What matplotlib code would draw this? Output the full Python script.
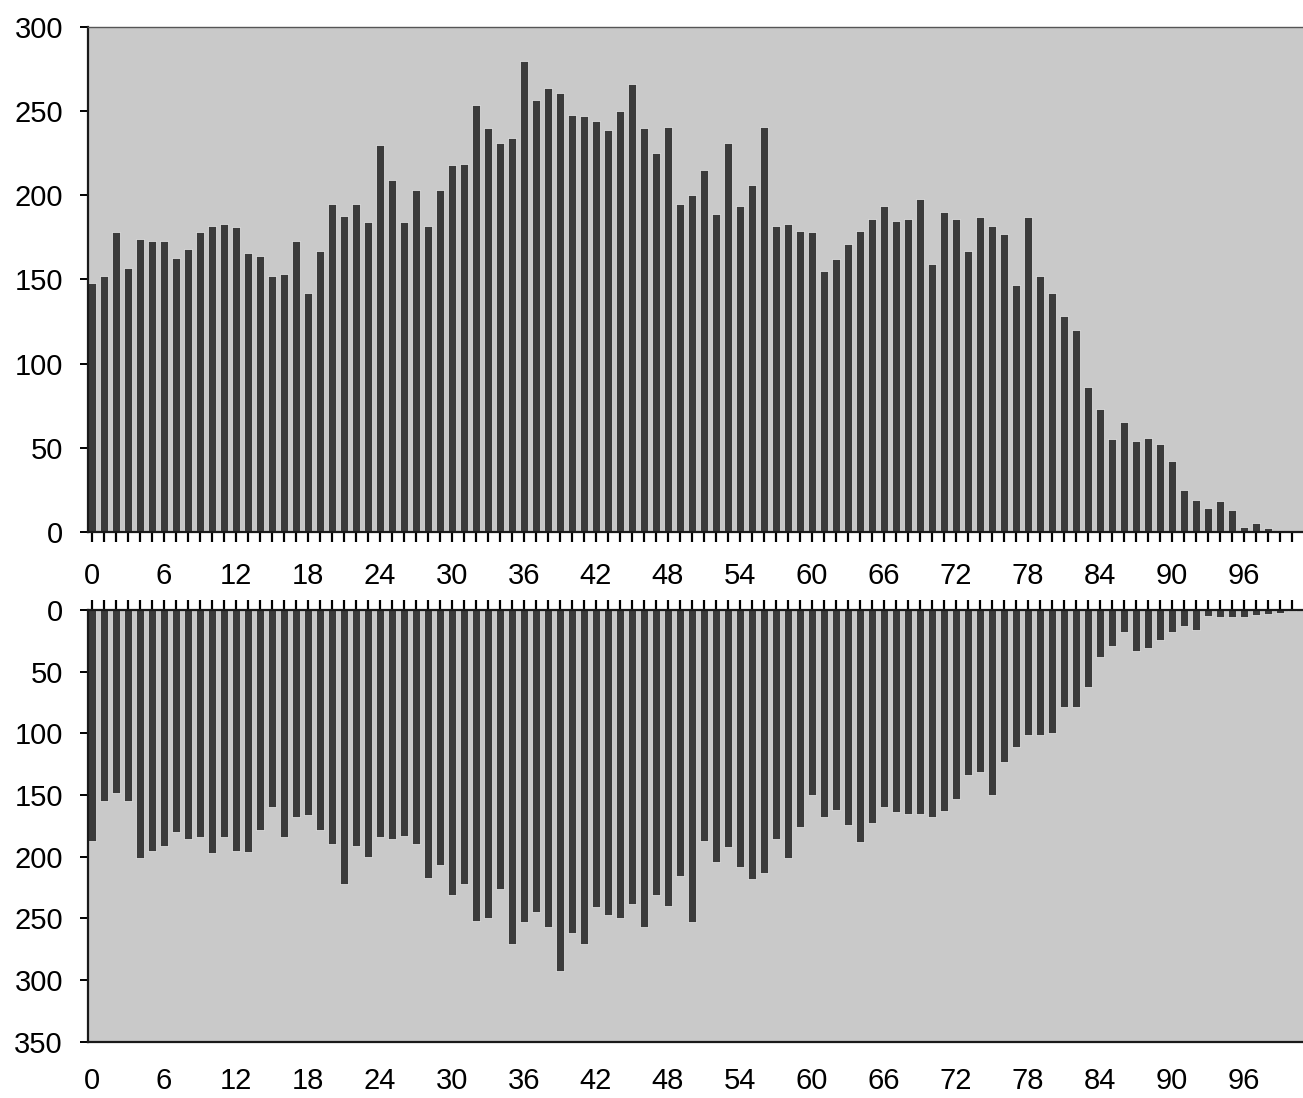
import matplotlib
matplotlib.use("Agg")
import matplotlib.pyplot as plt

# ages 0..100, one bar per year
ages = list(range(101))

upper_counts = [148, 152, 178, 157, 174, 173, 173, 163, 168, 178,
                182, 183, 181, 166, 164, 152, 153, 173, 142, 167,
                195, 188, 195, 184, 230, 209, 184, 203, 182, 203,
                218, 219, 254, 240, 231, 234, 280, 257, 264, 261,
                248, 247, 244, 239, 250, 266, 240, 225, 241, 195,
                200, 215, 189, 231, 194, 206, 241, 182, 183, 179,
                178, 155, 162, 171, 179, 186, 194, 185, 186, 198,
                159, 190, 186, 167, 187, 182, 177, 147, 187, 152,
                142, 128, 120, 86, 73, 55, 65, 54, 56, 52,
                42, 25, 19, 14, 18, 13, 3, 5, 2, 0,
                0]

lower_counts = [187, 155, 148, 155, 201, 195, 191, 180, 186, 184,
                197, 184, 195, 196, 178, 160, 184, 168, 166, 178,
                190, 222, 191, 200, 184, 186, 183, 190, 217, 207,
                231, 222, 252, 250, 226, 271, 253, 245, 257, 293,
                262, 271, 241, 247, 250, 238, 257, 231, 240, 216,
                253, 187, 204, 192, 208, 218, 213, 186, 201, 176,
                150, 168, 162, 174, 188, 173, 160, 164, 165, 165,
                168, 163, 153, 134, 131, 150, 123, 111, 101, 101,
                100, 79, 79, 62, 38, 29, 18, 33, 31, 24,
                18, 13, 16, 5, 6, 6, 6, 4, 3, 2,
                1]

x_label_step = 6
upper_yticks = list(range(0, 301, 50))
lower_yticks = list(range(0, 351, 50))

BAR_COLOR = "#3b3b3b"
PANEL_BG = "#c9c9c9"
FONT = "Liberation Sans"
FS = 21


def style_axes(ax):
    ax.set_facecolor(PANEL_BG)
    ax.set_xlim(-0.33, 100.9)
    ax.spines["right"].set_visible(False)
    for s in ("left", "top", "bottom"):
        ax.spines[s].set_linewidth(1.6)
        ax.spines[s].set_color("#1a1a1a")
    ax.set_xticks(ages)
    ax.set_xticklabels([str(a) if a % x_label_step == 0 else "" for a in ages])
    ax.tick_params(axis="y", direction="out", length=6, width=1.4,
                   pad=12, labelsize=FS)
    for lab in ax.get_xticklabels() + ax.get_yticklabels():
        lab.set_fontfamily(FONT)
        lab.set_fontsize(FS)


def main():
    fig = plt.figure(figsize=(13.03, 10.98), dpi=100)

    ax_top = fig.add_axes([0.0675, 0.5158, 0.9325, 0.4593])
    ax_top.bar(ages, upper_counts, width=0.66, color=BAR_COLOR,
               edgecolor="#efefef", linewidth=0.5, zorder=2)
    ax_top.set_ylim(0, 300)
    ax_top.set_yticks(upper_yticks)
    style_axes(ax_top)
    ax_top.spines["top"].set_linewidth(1.0)
    ax_top.spines["top"].set_color("#555555")
    ax_top.tick_params(axis="x", direction="out", length=7, width=1.6,
                       pad=15)

    ax_bot = fig.add_axes([0.0675, 0.0513, 0.9325, 0.3931])
    ax_bot.bar(ages, lower_counts, width=0.66, color=BAR_COLOR,
               edgecolor="#efefef", linewidth=0.5, zorder=2)
    ax_bot.set_ylim(350, 0)
    ax_bot.set_yticks(lower_yticks)
    style_axes(ax_bot)
    # tick marks on the zero line (top), labels along the bottom
    ax_bot.tick_params(axis="x", top=True, bottom=False,
                       labeltop=False, labelbottom=True,
                       direction="out", length=7, width=1.6, pad=11)

    fig.savefig("out.png", dpi=100, facecolor="white")


if __name__ == "__main__":
    main()
